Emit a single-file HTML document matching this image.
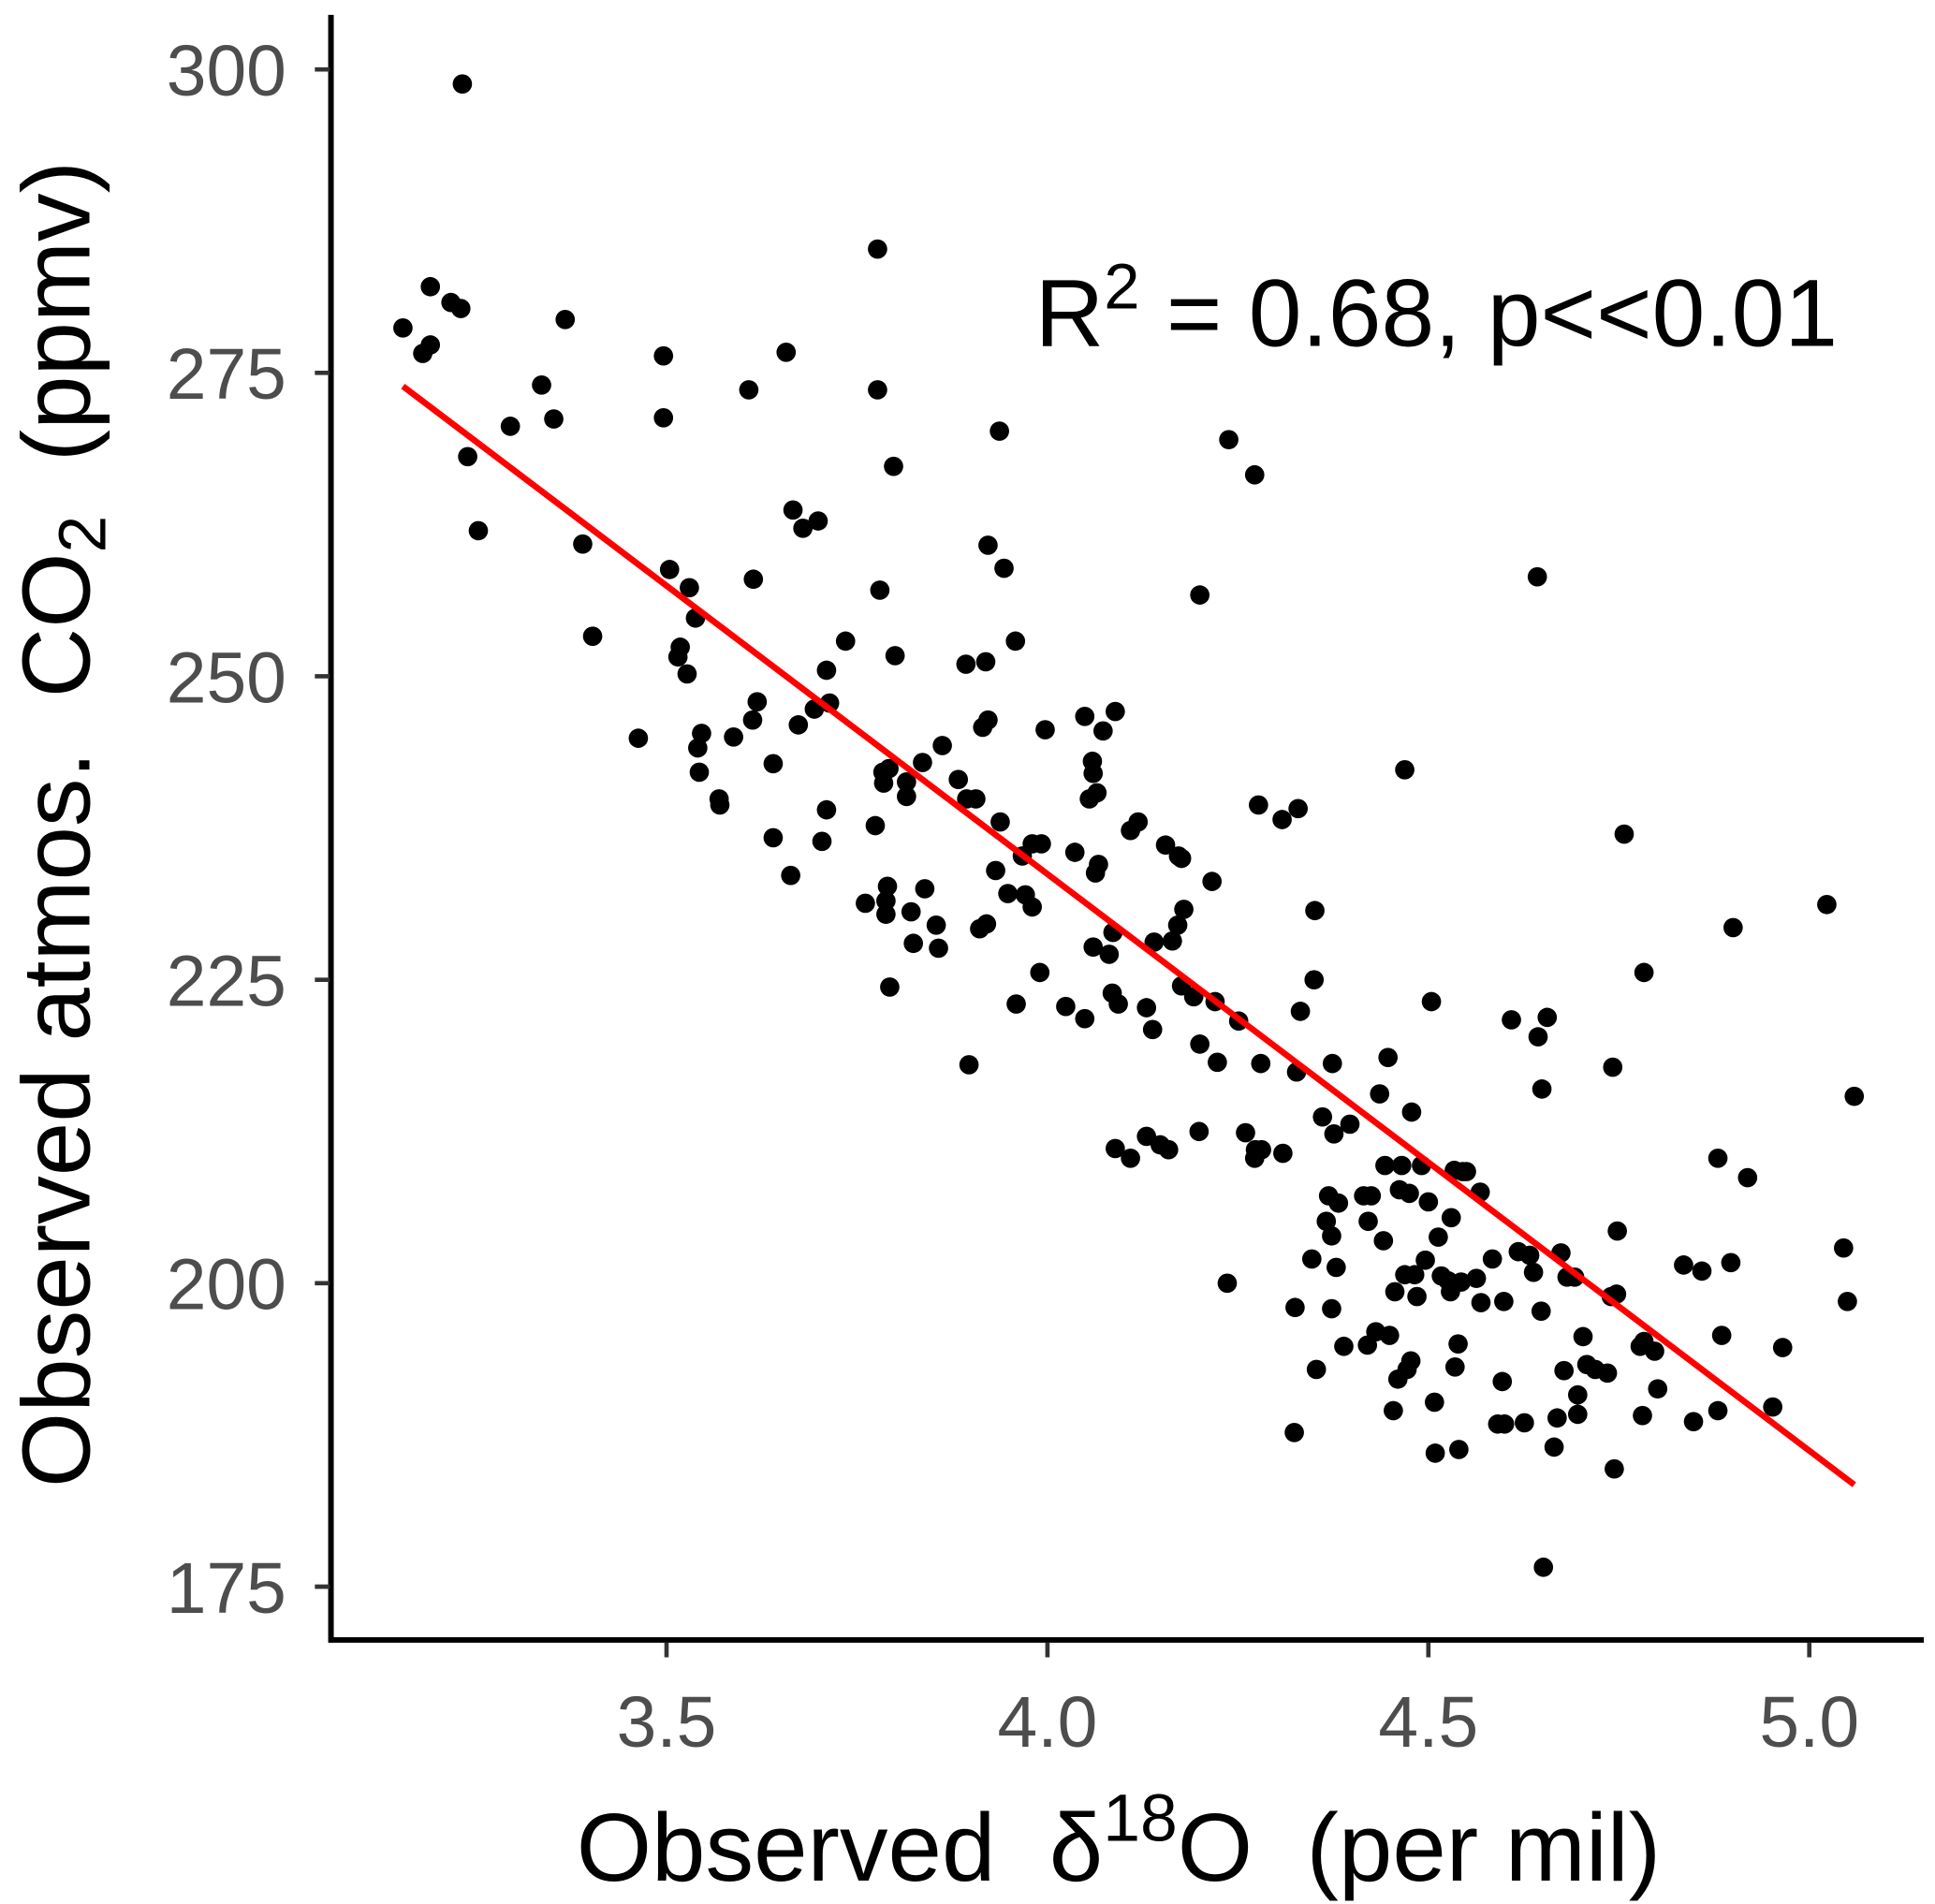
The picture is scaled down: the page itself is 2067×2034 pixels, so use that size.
<!DOCTYPE html>
<html><head><meta charset="utf-8"><style>html,body{margin:0;padding:0;background:#fff}svg{display:block}</style></head>
<body>
<svg width="2067" height="2034" viewBox="0 0 1561 1536" preserveAspectRatio="none" xmlns="http://www.w3.org/2000/svg" font-family="'Liberation Sans', Arial, sans-serif">
<rect width="1561" height="1536" fill="#fff"/>
<g id="plot"></g>
<text x="835" y="279" font-size="77" fill="#000">R<tspan dy="-30" font-size="52">2</tspan><tspan dy="30"> = 0.68, p&lt;&lt;0.01</tspan></text>
<text x="465" y="1517" font-size="78" fill="#000" xml:space="preserve">Observed  δ<tspan dy="-32" font-size="54">18</tspan><tspan dy="32">O  (per mil)</tspan></text>
<text transform="translate(72,1200) rotate(-90)" font-size="78" fill="#000" xml:space="preserve">Observed atmos.  CO<tspan dy="13" font-size="54">2</tspan><tspan dy="-13">  (ppmv)</tspan></text>
</svg>
<script>
const xs=[3.154,3.18,3.19,3.19,3.217,3.23,3.232,3.239,3.253,3.295,3.336,3.352,3.367,3.39,3.403,3.463,3.496,3.496,3.504,3.515,3.518,3.527,3.53,3.538,3.541,3.546,3.543,3.569,3.57,3.588,3.608,3.613,3.614,3.619,3.64,3.64,3.657,3.663,3.666,3.673,3.679,3.694,3.699,3.704,3.71,3.71,3.714,3.735,3.761,3.774,3.777,3.777,3.78,3.784,3.785,3.788,3.788,3.79,3.792,3.793,3.798,3.8,3.815,3.815,3.821,3.824,3.836,3.839,3.854,3.857,3.862,3.883,3.894,3.893,3.897,3.906,3.911,3.915,3.919,3.92,3.922,3.922,3.932,3.937,3.938,3.943,3.948,3.958,3.959,3.967,3.971,3.98,3.98,3.992,3.99,3.997,4.024,4.036,4.049,4.049,4.055,4.059,4.06,4.06,4.063,4.065,4.067,4.073,4.081,4.085,4.086,4.089,4.089,4.093,4.109,4.109,4.119,4.13,4.13,4.138,4.14,4.148,4.155,4.159,4.164,4.171,4.172,4.176,4.179,4.176,4.192,4.2,4.2,4.199,4.216,4.22,4.223,4.236,4.238,4.251,4.26,4.272,4.272,4.273,4.277,4.28,4.281,4.309,4.308,4.329,4.327,4.325,4.324,4.332,4.347,4.35,4.351,4.353,4.361,4.366,4.369,4.373,4.373,4.374,4.376,4.379,4.382,4.389,4.397,4.415,4.42,4.421,4.425,4.431,4.436,4.441,4.443,4.447,4.449,4.454,4.456,4.46,4.462,4.465,4.469,4.469,4.472,4.475,4.477,4.478,4.482,4.485,4.491,4.496,4.5,4.504,4.508,4.509,4.513,4.517,4.526,4.529,4.53,4.534,4.535,4.539,4.54,4.543,4.545,4.55,4.563,4.568,4.569,4.584,4.591,4.597,4.599,4.6,4.609,4.618,4.626,4.633,4.638,4.643,4.644,4.648,4.649,4.651,4.656,4.665,4.669,4.674,4.678,4.682,4.692,4.696,4.696,4.703,4.708,4.719,4.735,4.74,4.742,4.744,4.747,4.748,4.757,4.778,4.781,4.783,4.783,4.797,4.801,4.835,4.848,4.859,4.88,4.88,4.885,4.897,4.9,4.919,4.952,4.965,5.023,5.045,5.05,5.059];
const ys=[278.7,276.6,277.3,282.1,280.8,280.3,298.8,268.1,262.0,270.6,274.0,271.2,279.4,260.9,253.3,244.9,276.4,271.3,258.8,251.6,252.4,250.2,257.3,254.8,244.1,245.3,242.1,239.9,239.4,245.0,273.6,246.4,258.0,247.9,242.8,236.7,276.7,233.6,263.7,246.0,262.2,247.3,262.8,236.4,250.5,239.0,247.8,252.9,231.3,237.7,285.2,273.6,257.1,242.1,241.2,230.4,231.5,232.7,242.4,224.4,267.3,251.7,241.3,240.1,230.6,228.0,242.9,232.5,229.5,227.6,244.3,241.5,239.9,251.0,218.0,239.9,229.2,245.8,251.2,229.6,246.4,260.8,234.0,270.2,238.0,258.9,232.1,252.9,223.0,235.2,232.0,236.2,231.0,236.2,225.6,245.6,222.8,235.5,246.7,221.8,239.9,243.0,242.0,227.7,233.8,240.4,234.5,245.5,227.1,223.9,228.9,247.1,211.1,223.0,237.3,210.3,238.0,212.1,222.7,220.9,228.1,211.4,236.1,211.0,228.2,229.5,235.2,235.0,230.8,224.5,223.6,256.7,219.7,212.5,233.1,223.2,218.2,200.0,269.5,221.6,212.4,266.6,210.3,211.0,239.4,218.1,211.0,210.7,238.2,239.1,217.4,198.0,187.7,222.4,202.0,225.0,230.7,192.9,213.7,205.1,207.2,197.9,203.9,218.1,212.3,201.3,206.6,194.8,213.1,207.2,194.9,205.1,207.2,196.0,215.6,203.5,209.7,218.6,195.7,189.5,199.3,192.1,207.7,209.7,200.7,242.3,192.9,207.4,193.6,214.1,200.7,198.9,209.7,201.9,206.7,223.2,190.2,186.0,203.8,200.6,200.2,199.3,205.4,209.3,193.1,195.0,186.3,200.1,209.2,209.2,200.4,207.5,198.4,202.0,188.4,191.9,198.5,188.4,221.7,202.6,188.5,202.3,200.9,258.2,220.3,197.7,216.0,176.6,221.9,186.5,188.9,202.5,192.8,200.5,200.5,189.2,190.8,195.6,193.3,192.9,192.6,198.9,217.8,184.7,199.1,204.3,237.0,194.8,189.1,225.6,195.2,194.4,191.3,201.5,188.6,201.0,189.5,210.3,195.7,201.7,229.3,208.7,189.8,194.7,231.2,202.9,198.5,215.4];
const fitX=[3.154,5.059];
const fitY=[273.9,183.4];
const xTicks=[3.5,4.0,4.5,5.0];
const xTickLabels=["3.5","4.0","4.5","5.0"];
const yTicks=[175,200,225,250,275,300];
const yTickLabels=["175","200","225","250","275","300"];

const NS="http://www.w3.org/2000/svg";
const sx=v=>845+(v-4)*614.6;
const sy=v=>56+(300-v)*9.792;
const g=document.getElementById('plot');
function mk(t,a){const e=document.createElementNS(NS,t);for(const k in a)e.setAttribute(k,a[k]);g.appendChild(e);return e;}

for(let i=0;i<xs.length;i++){
  const c=mk('circle',{cx:sx(xs[i]),cy:sy(ys[i]),r:7.8,fill:'#000'});
  
  
}
const fl=mk('line',{x1:sx(fitX[0]),y1:sy(fitY[0]),x2:sx(fitX[1]),y2:sy(fitY[1]),stroke:'#ff0000','stroke-width':5});



const ya=mk('line',{x1:267,y1:12,x2:267,y2:1325,stroke:'#000','stroke-width':4.5});


const xa=mk('line',{x1:265,y1:1323,x2:1552,y2:1323,stroke:'#000','stroke-width':4.5});



xTicks.forEach((v,i)=>{
  const t=mk('line',{x1:sx(v),y1:1325,x2:sx(v),y2:1337,stroke:'#333','stroke-width':3.5});
  
  
  const l=mk('text',{x:sx(v),y:1409,'font-size':58,fill:'#4d4d4d','text-anchor':'middle'});
  l.textContent=xTickLabels[i];
  
  
});
yTicks.forEach((v,i)=>{
  const t=mk('line',{x1:254,y1:sy(v),x2:266,y2:sy(v),stroke:'#333','stroke-width':3.5});
  
  
  const l=mk('text',{x:231,y:sy(v)+21,'font-size':58,fill:'#4d4d4d','text-anchor':'end'});
  l.textContent=yTickLabels[i];
  
  
});
</script>
</body></html>
